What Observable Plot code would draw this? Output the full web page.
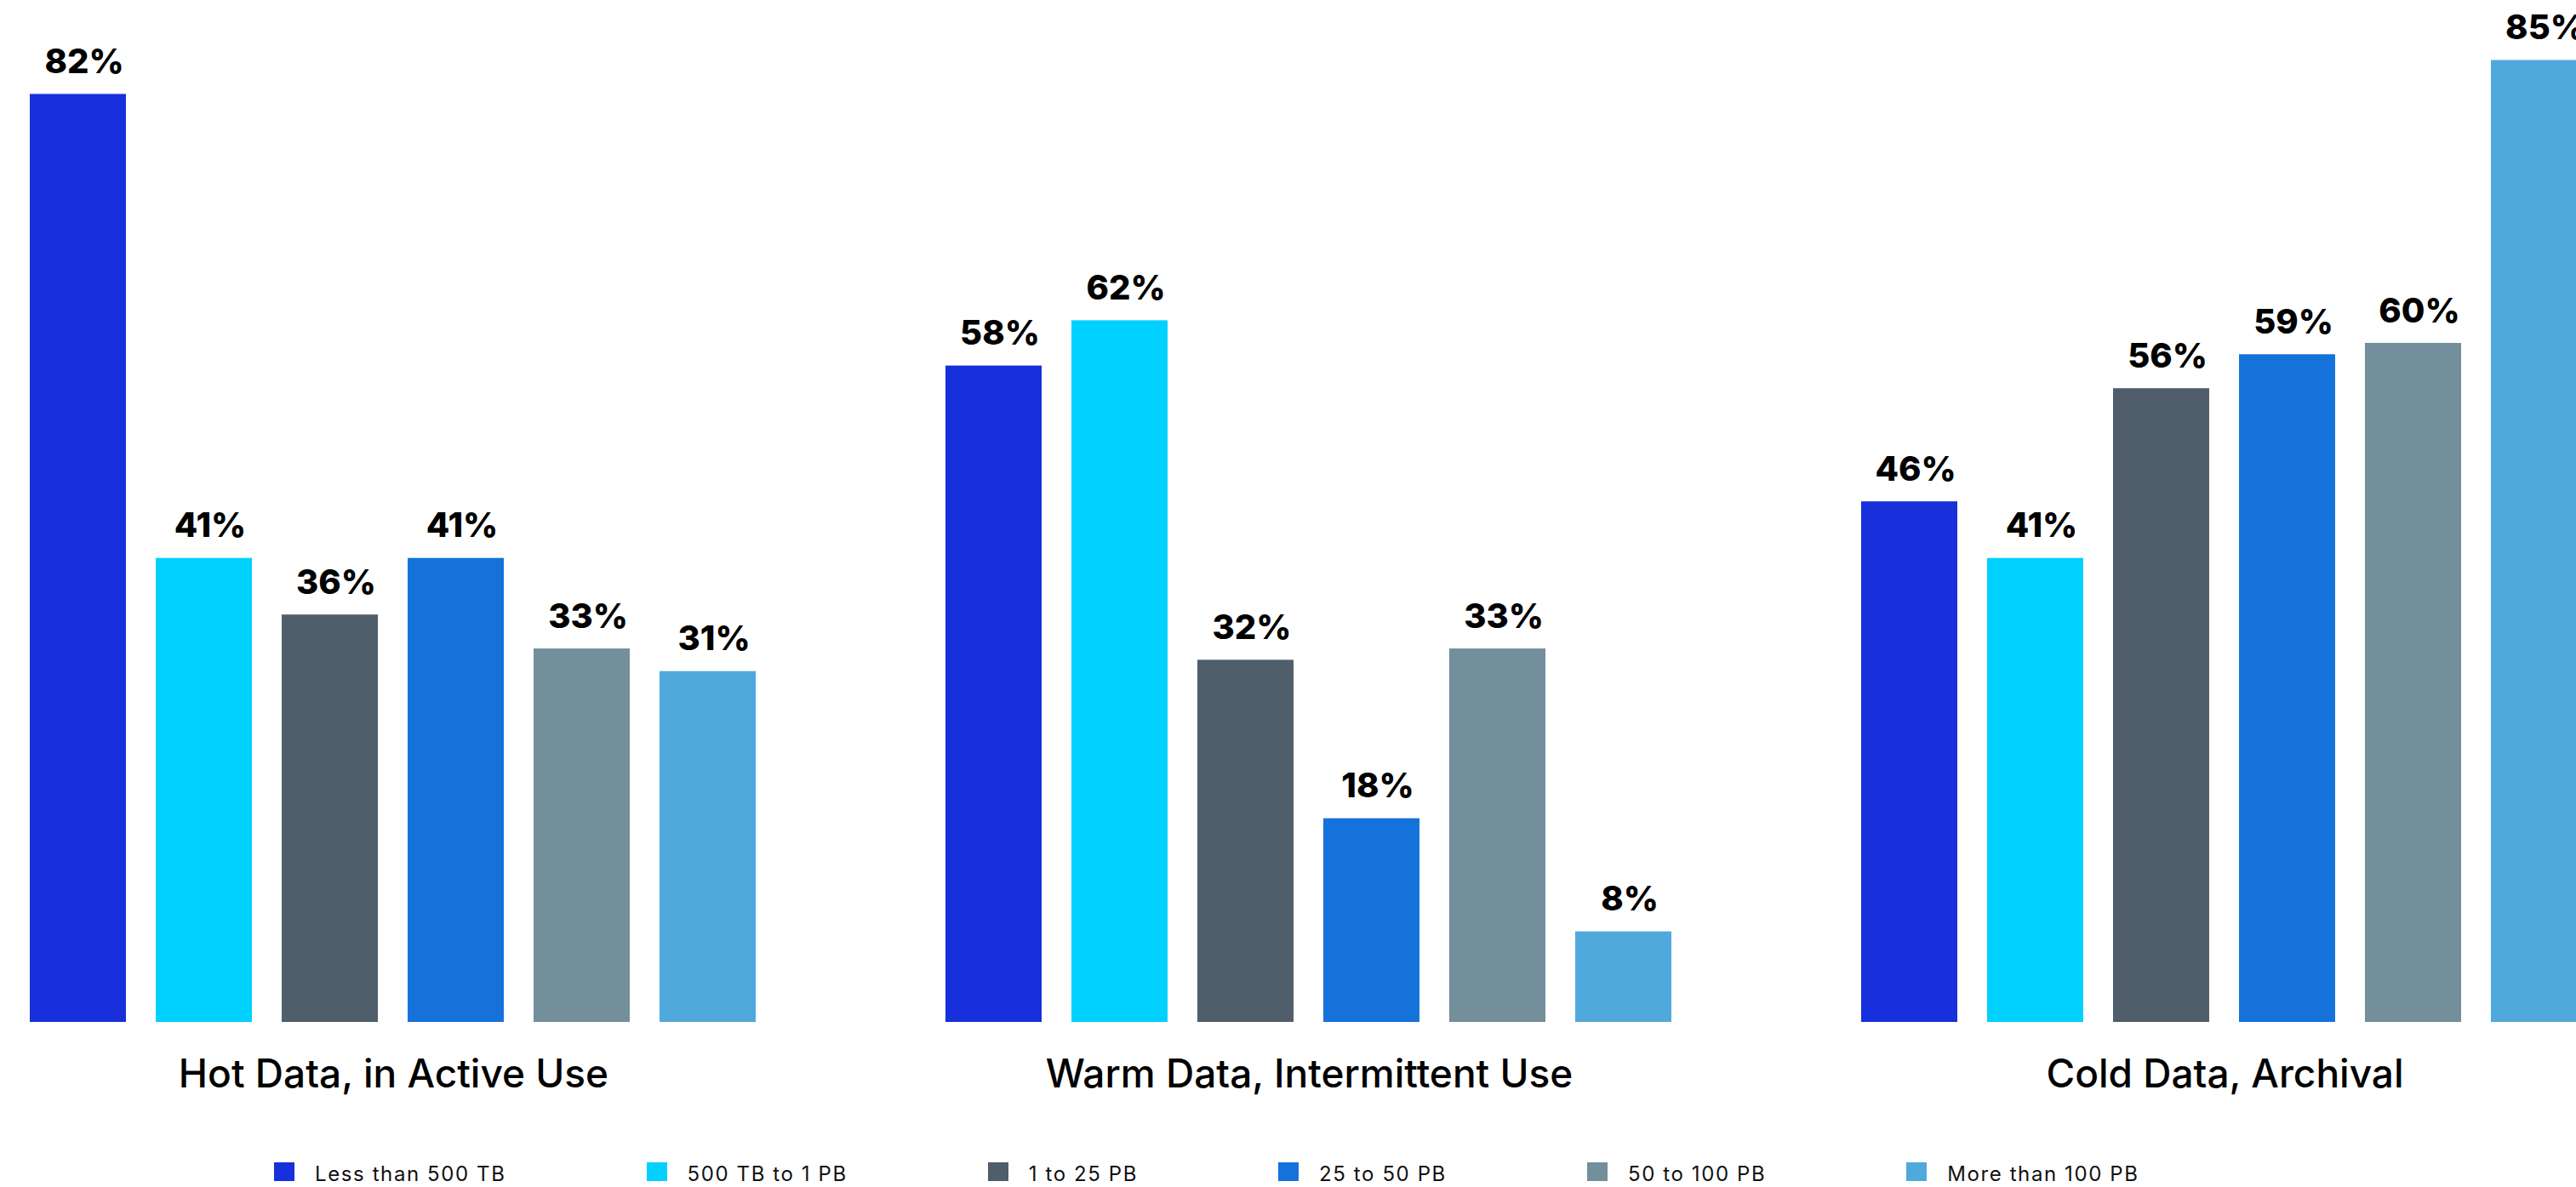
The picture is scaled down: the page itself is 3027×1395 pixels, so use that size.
<!DOCTYPE html>
<html>
<head>
<meta charset="utf-8">
<script src="https://cdn.jsdelivr.net/npm/d3@7"></script>
<script src="https://cdn.jsdelivr.net/npm/@observablehq/plot@0.6"></script>
<style>
  html, body { margin: 0; padding: 0; background: #fff; overflow: hidden; }
  #chart { position: relative; width: 3027px; height: 1395px; overflow: hidden; }
  #chart svg { overflow: hidden; }
  .lg-swatches-wrap {
    position: absolute; left: 322px; top: 1368px;
    height: 22px; min-height: 0 !important; margin: 0 !important;
    flex-wrap: nowrap !important;
    font-size: 24px !important;
  }
  .lg-swatch { margin-right: 165px !important; color: #111; letter-spacing: 1.6px; white-space: nowrap; }
  .lg-swatch > svg { margin-right: 24px !important; position: relative; top: -2px; }
</style>
</head>
<body>
<div id="chart"></div>
<script>
// Storage tiers and company data-volume bands
const groups = ["Hot Data, in Active Use", "Warm Data, Intermittent Use", "Cold Data, Archival"];
const sizes = ["Less than 500 TB", "500 TB to 1 PB", "1 to 25 PB", "25 to 50 PB", "50 to 100 PB", "More than 100 PB"];
const hot  = [82, 41, 36, 41, 33, 31];
const warm = [58, 62, 32, 18, 33, 8];
const cold = [46, 41, 56, 59, 60, 85];
const colors = ["#1730DB", "#00D1FF", "#4F5E6A", "#1672DB", "#728F9B", "#50A9DC"];

const series = [hot, warm, cold];
const data = groups.flatMap((g, i) => sizes.map((s, j) => ({group: g, size: s, value: series[i][j]})));

const font = "Inter, 'Noto Sans', sans-serif";

const plot = Plot.plot({
  width: 3027,
  height: 1300,
  marginLeft: 0,
  marginRight: 0,
  marginTop: 0,
  marginBottom: 99,
  style: {fontFamily: font, background: "#fff", color: "#000"},
  fx: {domain: groups, range: [32, 3045], paddingInner: 0.2024, paddingOuter: 0, label: null},
  x: {domain: sizes, paddingInner: 0.235, paddingOuter: 0, axis: null},
  y: {domain: [0, 100], range: [1201, -129], axis: null},
  color: {domain: sizes, range: colors},
  marks: [
    Plot.barY(data, {fx: "group", x: "size", y: "value", fill: "size"}),
    Plot.text(data, {
      fx: "group", x: "size", y: "value",
      text: d => `${d.value}%`,
      lineAnchor: "bottom", dy: -25, dx: 7,
      fontSize: 40, fontWeight: 800, fill: "#000"
    }),
    Plot.axisFx({
      anchor: "bottom", tickSize: 0, tickPadding: 44,
      fontSize: 46, fontWeight: 500, label: null, fill: "#000"
    })
  ]
});

const legend = Plot.legend({
  color: {domain: sizes, range: colors},
  className: "lg",
  swatchWidth: 24,
  swatchHeight: 22,
  style: {fontFamily: font}
});

const chart = document.getElementById("chart");
chart.appendChild(plot);
chart.appendChild(legend);
</script>
</body>
</html>
